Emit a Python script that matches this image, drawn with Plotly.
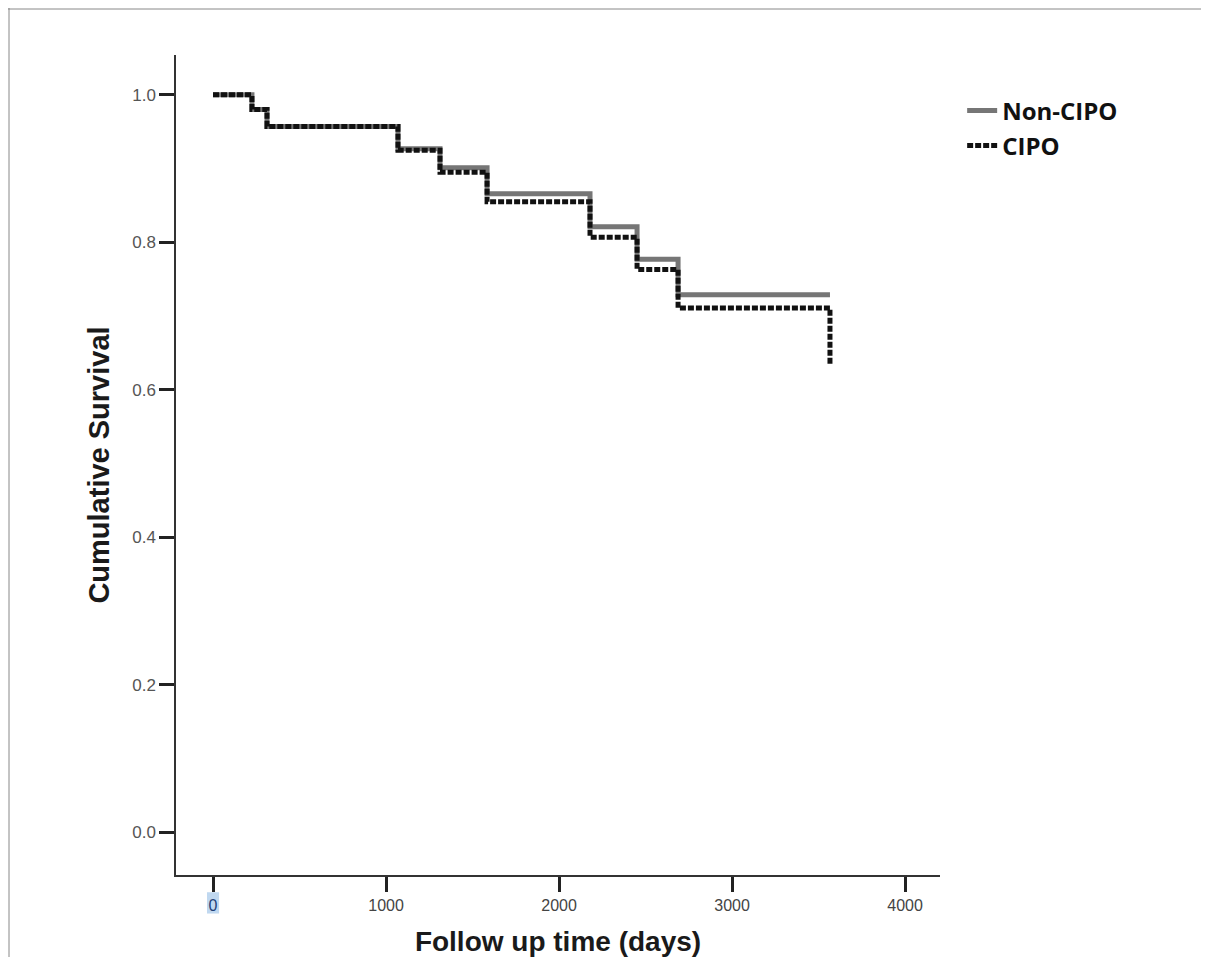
import plotly.graph_objects as go

# Kaplan-Meier step data (time in days, cumulative survival)
noncipo_time = [0, 225, 312, 1069, 1312, 1584, 2179, 2451, 2688, 3566]
noncipo_surv = [1.0, 0.980, 0.957, 0.927, 0.901, 0.866, 0.821, 0.777, 0.729, 0.729]

cipo_time = [0, 225, 312, 1069, 1312, 1584, 2179, 2451, 2688, 3566, 3566]
cipo_surv = [1.0, 0.980, 0.957, 0.925, 0.895, 0.855, 0.807, 0.763, 0.711, 0.711, 0.634]

x_ticks = [0, 1000, 2000, 3000, 4000]
x_tick_labels = ["<span style='color:#1f3f77'>0</span>", "1000", "2000", "3000", "4000"]
y_ticks = [0.0, 0.2, 0.4, 0.6, 0.8, 1.0]

fig = go.Figure()
fig.add_trace(go.Scatter(
    x=noncipo_time, y=noncipo_surv, mode="lines", name="Non-CIPO", legend="legend",
    line=dict(shape="hv", color="#767676", width=5),
))
fig.add_trace(go.Scatter(
    x=cipo_time, y=cipo_surv, mode="lines", name="CIPO", legend="legend2",
    line=dict(shape="hv", color="#111111", width=5, dash="6px,2px"),
))

tick_font = dict(family="Liberation Sans Narrow, Arial Narrow, Liberation Sans, Arial", size=16, color="#444444")
legend_font = dict(family="Open Sans, Liberation Sans", size=24, color="#111111", weight=700)

# figure is placed at (8, 8) by the page body margin
W, H = 1193, 949
L, T = 168, 47
PW, PH = 764, 820

fig.update_layout(
    width=W, height=H,
    margin=dict(l=L, r=W - L - PW, t=T, b=H - T - PH, autoexpand=False),
    paper_bgcolor="white", plot_bgcolor="white",
    showlegend=True,
    legend=dict(x=1.029, y=(PH + T + 8 - 111) / PH, xanchor="left", yanchor="middle",
                font=legend_font, bgcolor="rgba(0,0,0,0)", itemwidth=30),
    legend2=dict(x=1.029, y=(PH + T + 8 - 146) / PH, xanchor="left", yanchor="middle",
                 font=legend_font, bgcolor="rgba(0,0,0,0)", itemwidth=30),
    xaxis=dict(range=[-214, 4202], tickvals=x_ticks, ticktext=x_tick_labels,
               automargin=False,
               showgrid=False, zeroline=False, showline=True, linecolor="#333333", linewidth=1.5,
               ticks="outside", ticklen=15, tickwidth=2.5, tickcolor="#222222",
               tickfont=tick_font,
               title=dict(text="<b>Follow up time (days)</b>",
                          font=dict(family="Liberation Sans, Arial", size=28, color="#1a1a1a"),
                          standoff=18)),
    yaxis=dict(range=[-0.058, 1.054], tickvals=y_ticks, ticktext=[f"{v:.1f}" for v in y_ticks],
               automargin=False,
               showgrid=False, zeroline=False, showline=True, linecolor="#333333", linewidth=1.5,
               ticks="outside", ticklen=15, tickwidth=2.5, tickcolor="#222222",
               tickfont=dict(family="Liberation Sans, Arial", size=17, color="#555555"),
               title=dict(text="<b>Cumulative Survival</b>",
                          font=dict(family="Liberation Sans, Arial", size=29, color="#1a1a1a"),
                          standoff=14)),
    shapes=[
        dict(type="line", xref="paper", yref="paper", x0=-L / PW, x1=(W - L) / PW,
             y0=(PH + T - 1) / PH, y1=(PH + T - 1) / PH,
             line=dict(color="#888888", width=1)),
        dict(type="line", xref="paper", yref="paper", x0=(-L + 1) / PW, x1=(-L + 1) / PW,
             y0=(PH + T) / PH, y1=-(H - T - PH) / PH,
             line=dict(color="#888888", width=1)),
        dict(type="rect", xref="x", yref="paper", x0=-35, x1=35, y0=-0.047, y1=-0.021,
             fillcolor="rgba(150,190,230,0.6)", line=dict(width=0), layer="below"),
    ],
)

fig.write_html("out.html")
